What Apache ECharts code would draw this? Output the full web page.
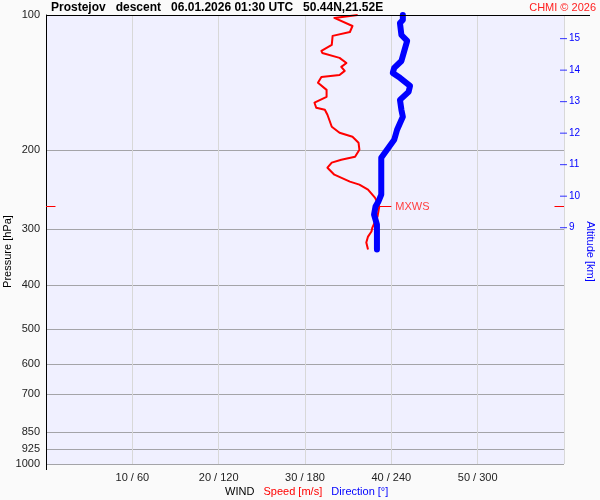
<!DOCTYPE html>
<html>
<head>
<meta charset="utf-8">
<script src="https://cdn.jsdelivr.net/npm/echarts@6/dist/echarts.min.js"></script>
<style>
  html, body { margin: 0; padding: 0; background: #fafafa; }
  #chart { width: 600px; height: 500px; }
</style>
</head>
<body>
<div id="chart"></div>
<script>
// wind speed profile [hPa] -> [m/s]
const speedPres = [100, 101.5, 105.8, 109.1, 111.3, 116.6, 120.2, 121.5, 124.6, 127.9, 130.5, 133.2, 136.0, 137.4, 141.6, 146.8, 152.1, 156.8, 160.9, 162.6, 166.8, 177.4, 182.9, 186.7, 192.5, 199.5, 206.8, 210.0, 213.2, 218.8, 226.8, 235.0, 238.7, 244.9, 255.1, 261.7, 267.1, 281.1, 297.5, 303.6, 311.5, 321.2, 332.9];
const speedVals = [36.1, 33.4, 35.5, 35.2, 33.2, 33.1, 31.9, 32.0, 34.0, 34.8, 34.2, 34.6, 34.0, 31.9, 31.5, 32.5, 32.5, 31.1, 31.3, 32.3, 32.6, 33.1, 34.0, 35.5, 36.2, 36.3, 35.8, 34.2, 33.1, 32.6, 33.4, 35.2, 36.3, 37.3, 38.1, 38.4, 38.6, 38.4, 37.8, 37.7, 37.3, 37.1, 37.3];

// wind direction profile [hPa] -> [deg]
const dirPres = [100, 102.6, 104.2, 110.8, 114.2, 120.2, 126.6, 131.2, 134.6, 138.0, 143.8, 148.3, 154.5, 162.6, 168.5, 180.1, 189.6, 199.5, 207.9, 221.1, 251.2, 260.4, 267.1, 278.3, 292.9, 332.9];
const dirVals = [248, 248, 246, 247, 251, 249, 247, 242, 241, 246, 253, 252, 246, 247, 248, 244, 242, 237, 233, 233, 233, 231, 229, 228, 230, 230];

// axes
const presTicks = [100, 200, 300, 400, 500, 600, 700, 850, 925, 1000];
const altTicks = [9, 10, 11, 12, 13, 14, 15];
const speedMax = 60;
const speedStep = 10;

// max wind level
const mxwsPres = 267;
const mxwsSpeed = 38.6;

const FONT = 'Liberation Sans, Arial, sans-serif';

const chart = echarts.init(document.getElementById('chart'));

const speedData = speedPres.map((p, i) => [speedVals[i], p]);
const dirData = dirPres.map((p, i) => [dirVals[i], p]);
// altitude ticks sit on the right edge of the plot
const altTickData = altTicks.map(k => [speedMax, k]);

const option = {
  animation: false,
  backgroundColor: '#fafafa',
  textStyle: { fontFamily: FONT },
  title: [
    {
      text: 'Prostejov   descent   06.01.2026 01:30 UTC   50.44N,21.52E',
      left: 51, top: 2, padding: 0,
      textStyle: { fontSize: 12, fontWeight: 'bold', color: '#000', fontFamily: FONT }
    },
    {
      text: 'CHMI © 2026',
      right: 4, top: 2, padding: 0,
      textStyle: { fontSize: 11, fontWeight: 'normal', color: '#ff2020', fontFamily: FONT }
    },
    {
      text: '{w|WIND}   {s|Speed [m/s]}   {d|Direction [°]}',
      left: 225, top: 486, padding: 0,
      textStyle: {
        fontSize: 11, fontWeight: 'normal', fontFamily: FONT,
        rich: {
          w: { color: '#000', fontSize: 11, fontFamily: FONT },
          s: { color: '#ff0000', fontSize: 11, fontFamily: FONT },
          d: { color: '#0000ff', fontSize: 11, fontFamily: FONT }
        }
      }
    }
  ],
  grid: {
    left: 46, right: 36, top: 15, bottom: 36,
    outerBoundsMode: 'none', containLabel: false,
    show: true, backgroundColor: '#f0f0ff', borderWidth: 0
  },
  xAxis: [
    {
      type: 'value', position: 'bottom',
      min: 0, max: speedMax, interval: speedStep,
      axisLine: { show: false },
      axisTick: { show: false },
      splitLine: { show: true, lineStyle: { color: '#d8d8d8', width: 1 } },
      axisLabel: {
        margin: 8, fontSize: 11, color: '#222', fontFamily: FONT,
        formatter: v => (v === 0 || v === speedMax) ? '' : v + ' / ' + v * 6
      }
    },
    {
      type: 'value', position: 'top', show: false,
      min: 0, max: speedMax * 6
    }
  ],
  yAxis: [
    {
      type: 'log', logBase: 10, min: 100, max: 1000, inverse: true,
      position: 'left',
      name: 'Pressure [hPa]', nameLocation: 'middle', nameGap: 33, nameMoveOverlap: false,
      nameTextStyle: { fontSize: 11, color: '#000', fontFamily: FONT, padding: [0, 24, 0, 0] },
      axisLine: { show: true, lineStyle: { color: '#000', width: 1 } },
      axisTick: { show: false, customValues: presTicks },
      axisLabel: {
        customValues: presTicks, margin: 6, fontSize: 11, color: '#222', fontFamily: FONT,
        formatter: v => String(Math.round(v))
      },
      splitLine: { show: true, lineStyle: { color: '#a4a4a8', width: 1 } }
    },
    {
      type: 'value', position: 'right', offset: -4,
      min: 1.5, max: 15.75,
      name: 'Altitude [km]', nameLocation: 'middle', nameGap: 25, nameRotate: -90, nameMoveOverlap: false,
      nameTextStyle: { fontSize: 11, color: '#0000ff', fontFamily: FONT, padding: [0, 0, 0, 24] },
      axisLine: { show: false },
      axisTick: { show: false },
      axisLabel: { customValues: altTicks, margin: 9, fontSize: 10, color: '#0000ff', fontFamily: FONT },
      splitLine: { show: false }
    }
  ],
  series: [
    {
      name: 'Speed', type: 'line',
      xAxisIndex: 0, yAxisIndex: 0,
      data: speedData,
      showSymbol: false, smooth: false,
      lineStyle: { color: '#ff0000', width: 2, join: 'round' },
      markLine: {
        silent: true, symbol: 'none', animation: false,
        lineStyle: { color: '#ff0000', width: 1, type: 'solid' },
        label: { show: false },
        data: [
          [{ coord: [0, mxwsPres] }, { coord: [1.1, mxwsPres] }],
          [{ coord: [58.9, mxwsPres] }, { coord: [speedMax, mxwsPres] }],
          [
            {
              coord: [mxwsSpeed, mxwsPres],
              label: { show: true, position: 'end', formatter: 'MXWS', color: '#ff4040', fontSize: 11, distance: 4, fontFamily: FONT }
            },
            { coord: [40.0, mxwsPres] }
          ]
        ]
      },
      z: 2
    },
    {
      name: 'Direction', type: 'line',
      xAxisIndex: 1, yAxisIndex: 0,
      data: dirData,
      showSymbol: false, smooth: false,
      lineStyle: { color: '#0000ff', width: 6, join: 'round', cap: 'round' },
      z: 3
    },
    {
      name: 'AltTicks', type: 'scatter',
      xAxisIndex: 0, yAxisIndex: 1,
      data: altTickData,
      symbol: 'rect', symbolSize: [7, 1], symbolOffset: [-0.5, 0],
      itemStyle: { color: '#0000ff' },
      silent: true, clip: false,
      z: 4
    }
  ],
  graphic: [
    { type: 'line', z: 100, shape: { x1: 46, y1: 15.5, x2: 590, y2: 15.5 }, style: { stroke: '#000', lineWidth: 1 } },
    { type: 'line', z: 100, shape: { x1: 46.5, y1: 464, x2: 46.5, y2: 470 }, style: { stroke: '#000', lineWidth: 1 } }
  ]
};

chart.setOption(option);
window.addEventListener('resize', chart.resize);
</script>
</body>
</html>
